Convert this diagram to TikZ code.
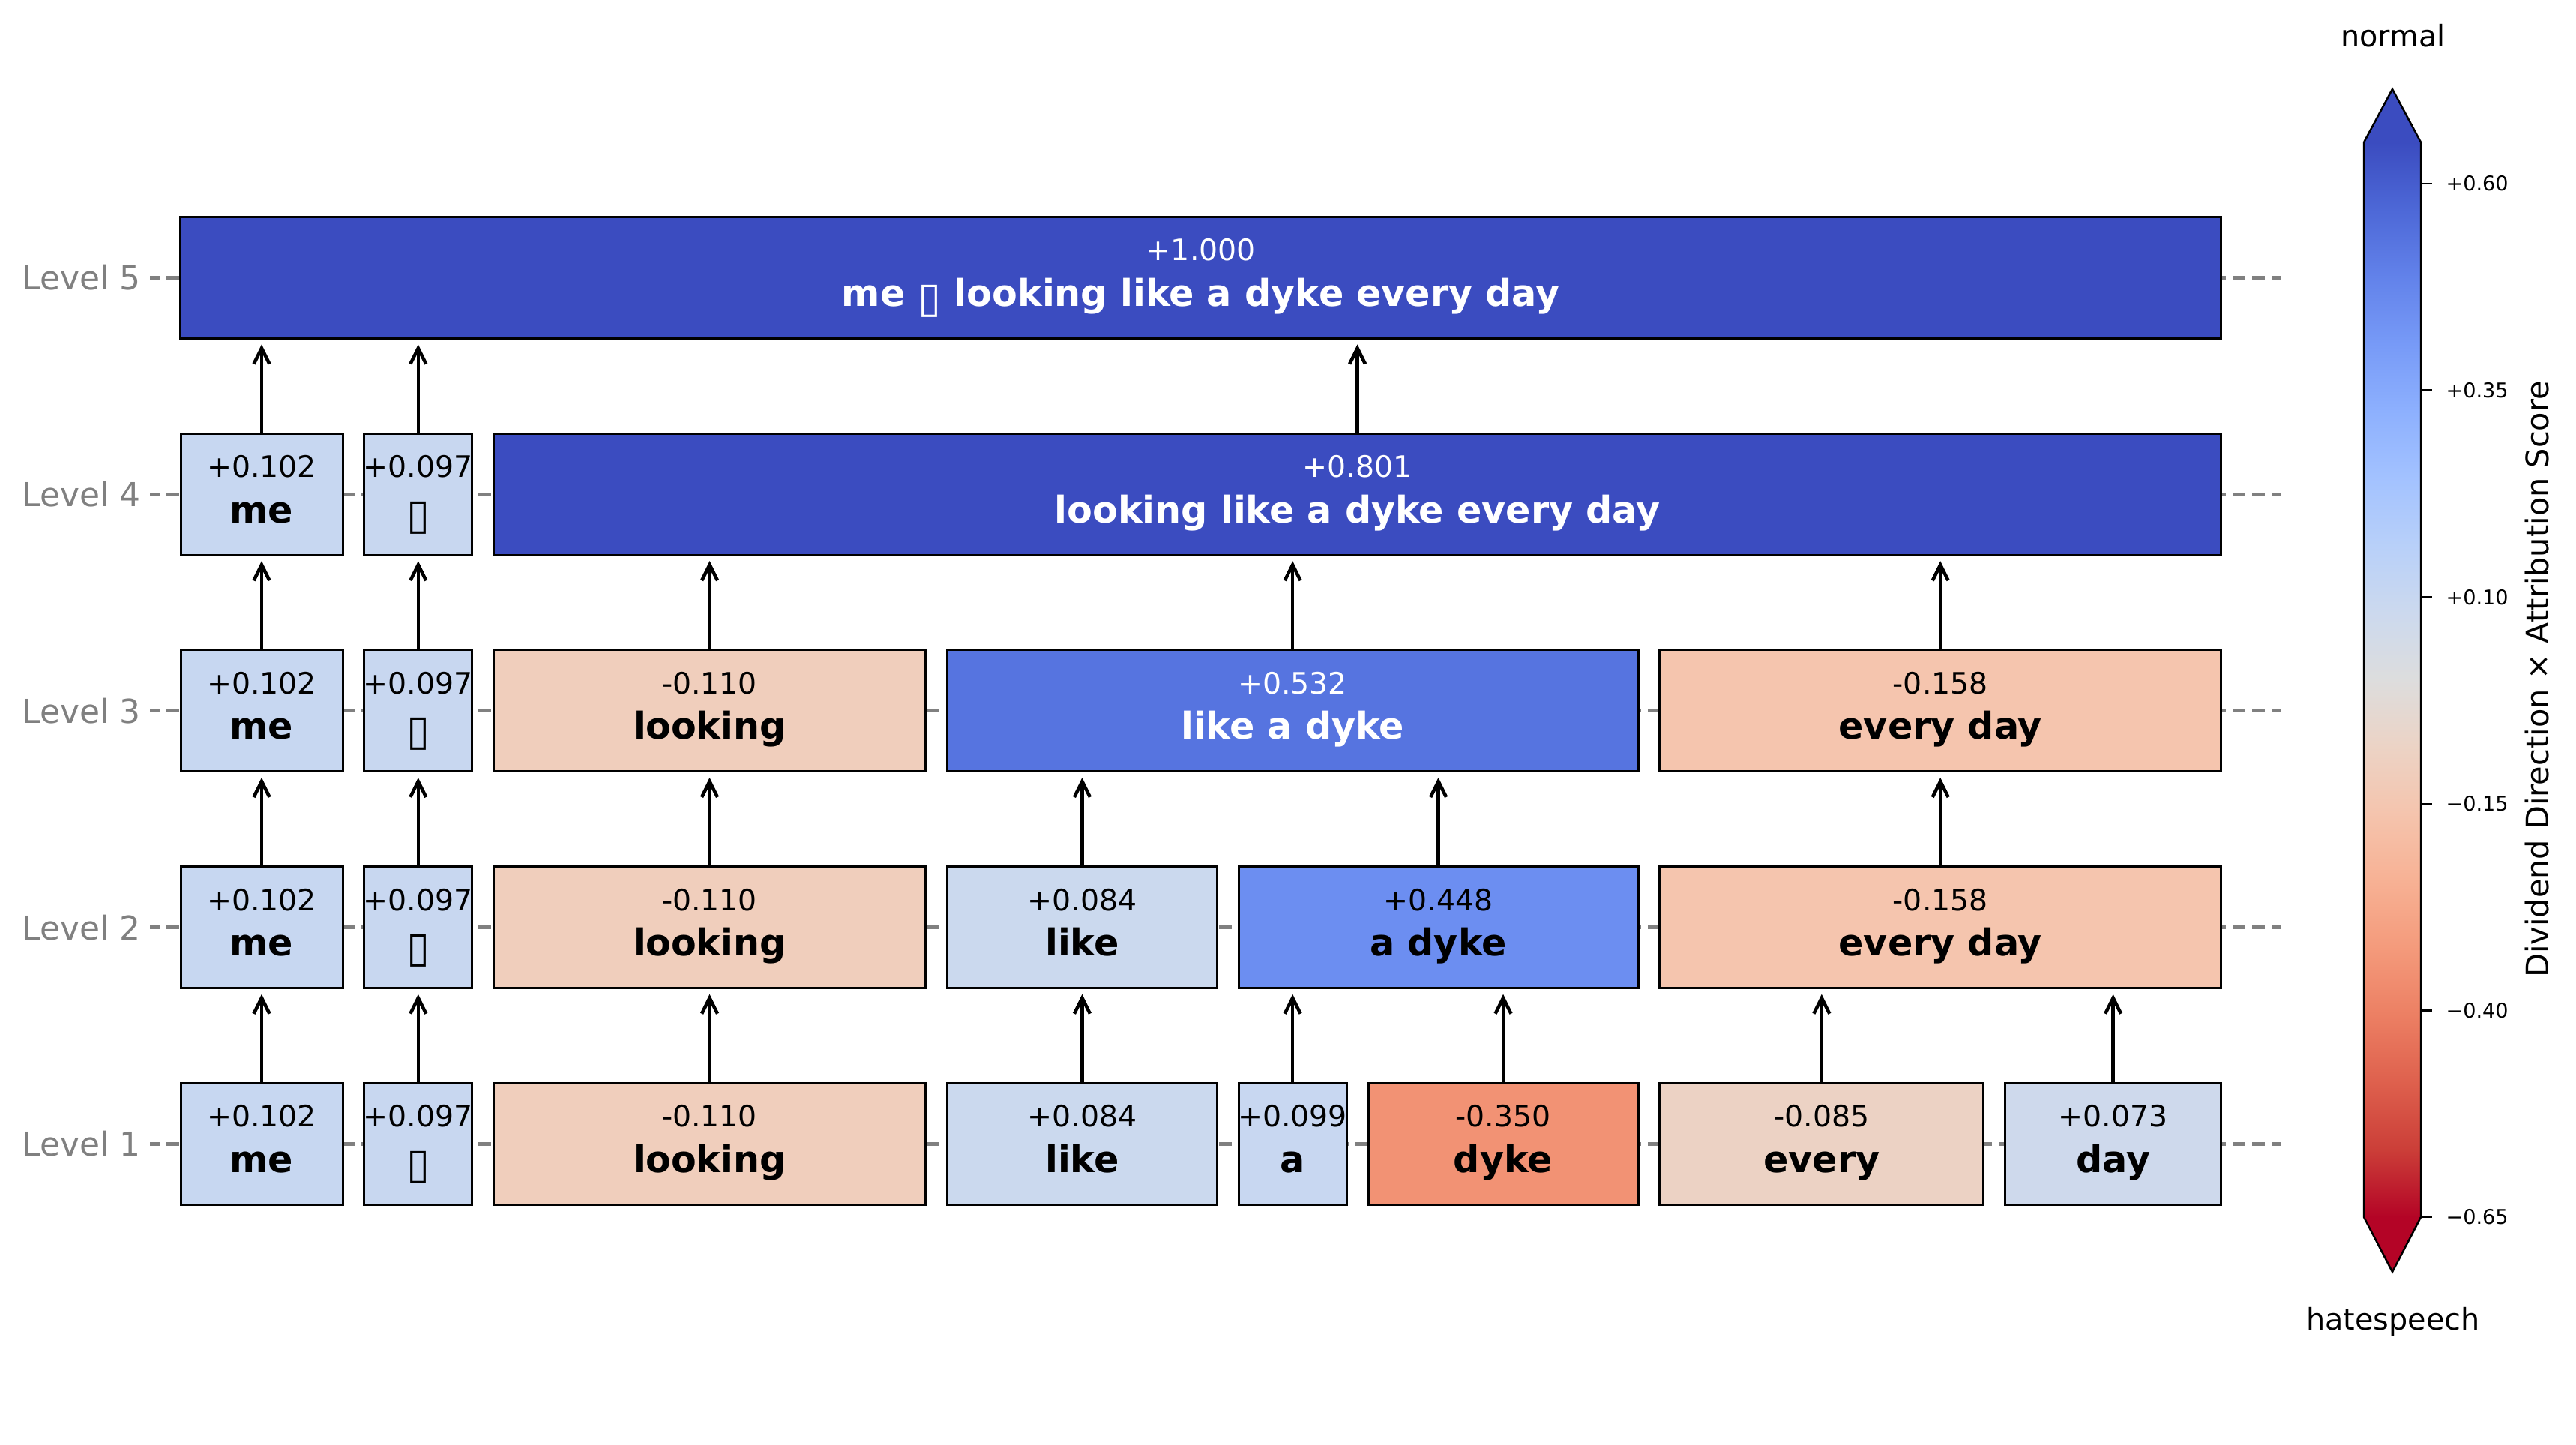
\documentclass[tikz,border=0pt]{standalone}
\usepackage{fontspec}
\setmainfont{DejaVu Sans}
\usetikzlibrary{arrows.meta}

\definecolor{gridgray}{HTML}{808080}
% box colours
\definecolor{cMe}{HTML}{C7D7F1}
\definecolor{cEmo}{HTML}{C8D7F0}
\definecolor{cLook}{HTML}{F0CEBC}
\definecolor{cLike}{HTML}{CBD9EE}
\definecolor{cA}{HTML}{C8D7F1}
\definecolor{cDyke}{HTML}{F29274}
\definecolor{cEvery}{HTML}{ECD2C4}
\definecolor{cDay}{HTML}{CED9EC}
\definecolor{cADyke}{HTML}{6C8EF1}
\definecolor{cEveryDay}{HTML}{F5C5AE}
\definecolor{cLikeADyke}{HTML}{5674E0}
\definecolor{cTop}{HTML}{3B4CC0}
% colour bar stops, top to bottom
\definecolor{cw0}{HTML}{3B4CC0}
\definecolor{cw1}{HTML}{4D68D7}
\definecolor{cw2}{HTML}{6282EA}
\definecolor{cw3}{HTML}{779AF7}
\definecolor{cw4}{HTML}{8DB0FE}
\definecolor{cw5}{HTML}{A3C2FF}
\definecolor{cw6}{HTML}{B8D0F9}
\definecolor{cw7}{HTML}{CCD9EE}
\definecolor{cw8}{HTML}{DDDDDD}
\definecolor{cw9}{HTML}{ECD3C5}
\definecolor{cw10}{HTML}{F5C4AD}
\definecolor{cw11}{HTML}{F7B194}
\definecolor{cw12}{HTML}{F49A7B}
\definecolor{cw13}{HTML}{EC7F63}
\definecolor{cw14}{HTML}{DE604D}
\definecolor{cw15}{HTML}{CB3E38}
\definecolor{cw16}{HTML}{B40426}

\tikzset{
  tokbox/.style={draw=black, line width=0.3mm, minimum height=16.2mm, inner sep=0pt},
  valtext/.style={anchor=base, inner sep=0pt, font=\fontsize{11.2}{13}\selectfont},
  wordtext/.style={anchor=base, inner sep=0pt, font=\fontsize{14}{16}\selectfont\bfseries},
  leveltick/.style={gridgray, line width=0.46mm},
  levelgrid/.style={gridgray, line width=0.46mm, dash pattern=on 1.7mm off 0.9mm, dash phase=1.7mm},
  levellabel/.style={anchor=east, inner sep=0pt, text=gridgray, font=\fontsize{12.5}{15}\selectfont},
  uparrow/.style={-{Straight Barb[length=2.1mm,width=2.1mm]}, line width=0.45mm, shorten >=0.65mm},
  barlabel/.style={inner sep=0pt, font=\fontsize{11.3}{13}\selectfont},
  ticklabel/.style={anchor=west, inner sep=0pt, font=\fontsize{7.7}{9}\selectfont}
}

% the glyph that the font lacks
\newcommand{\tofu}{\raisebox{-0.8mm}{\resizebox*{!}{4.3mm}{\mdseries ▯}}}

% name, first and last position (token units), level, fill, text colour, score, words
\newcommand{\tokbox}[8]{%
  \pgfmathsetmacro{\tbw}{(#3-#2)*7.2}%
  \pgfmathsetmacro{\tbx}{24.1+(#2+#3)*3.6}%
  \pgfmathsetmacro{\tby}{40.15+(#4-1)*28.875}%
  \node[tokbox, fill=#5, minimum width=\tbw mm] (#1) at (\tbx,\tby) {};
  \node[valtext, text=#6] at ([yshift=2.25mm]#1.center) {#7};
  \node[wordtext, text=#6] at ([yshift=-3.8mm]#1.center) {#8};
}

\begin{document}
\begin{tikzpicture}[x=1mm, y=1mm]
    \useasboundingbox (0,0) rectangle (343.6,192.7);

    % level lines
    \foreach \lv in {1,...,5} {
        \pgfmathsetmacro{\ly}{40.15+(\lv-1)*28.875}
        \draw[leveltick] (20.0,\ly) -- (21.3,\ly);
        \draw[levelgrid] (21.3,\ly) -- (304.2,\ly);
        \node[levellabel] (lvl\lv) at (18.8,\ly) {Level \lv};
    }

    % level 1
    \tokbox{me1}{0}{3}{1}{cMe}{black}{+0.102}{me}
    \tokbox{emo1}{3.4}{5.4}{1}{cEmo}{black}{+0.097}{\tofu}
    \tokbox{look1}{5.8}{13.8}{1}{cLook}{black}{-0.110}{looking}
    \tokbox{like1}{14.2}{19.2}{1}{cLike}{black}{+0.084}{like}
    \tokbox{a1}{19.6}{21.6}{1}{cA}{black}{+0.099}{a}
    \tokbox{dyke1}{22.0}{27.0}{1}{cDyke}{black}{-0.350}{dyke}
    \tokbox{every1}{27.4}{33.4}{1}{cEvery}{black}{-0.085}{every}
    \tokbox{day1}{33.8}{37.8}{1}{cDay}{black}{+0.073}{day}

    % level 2
    \tokbox{me2}{0}{3}{2}{cMe}{black}{+0.102}{me}
    \tokbox{emo2}{3.4}{5.4}{2}{cEmo}{black}{+0.097}{\tofu}
    \tokbox{look2}{5.8}{13.8}{2}{cLook}{black}{-0.110}{looking}
    \tokbox{like2}{14.2}{19.2}{2}{cLike}{black}{+0.084}{like}
    \tokbox{adyke2}{19.6}{27.0}{2}{cADyke}{black}{+0.448}{a dyke}
    \tokbox{everyday2}{27.4}{37.8}{2}{cEveryDay}{black}{-0.158}{every day}

    % level 3
    \tokbox{me3}{0}{3}{3}{cMe}{black}{+0.102}{me}
    \tokbox{emo3}{3.4}{5.4}{3}{cEmo}{black}{+0.097}{\tofu}
    \tokbox{look3}{5.8}{13.8}{3}{cLook}{black}{-0.110}{looking}
    \tokbox{likeadyke3}{14.2}{27.0}{3}{cLikeADyke}{white}{+0.532}{like a dyke}
    \tokbox{everyday3}{27.4}{37.8}{3}{cEveryDay}{black}{-0.158}{every day}

    % level 4
    \tokbox{me4}{0}{3}{4}{cMe}{black}{+0.102}{me}
    \tokbox{emo4}{3.4}{5.4}{4}{cEmo}{black}{+0.097}{\tofu}
    \tokbox{rest4}{5.8}{37.8}{4}{cTop}{white}{+0.801}{looking like a dyke every day}

    % level 5
    \tokbox{all5}{0}{37.8}{5}{cTop}{white}{+1.000}{me \tofu\ looking like a dyke every day}

    % merges
    \foreach \c/\p in {me1/me2, emo1/emo2, look1/look2, like1/like2, a1/adyke2, dyke1/adyke2,
                       every1/everyday2, day1/everyday2,
                       me2/me3, emo2/emo3, look2/look3, like2/likeadyke3, adyke2/likeadyke3,
                       everyday2/everyday3,
                       me3/me4, emo3/emo4, look3/rest4, likeadyke3/rest4, everyday3/rest4,
                       me4/all5, emo4/all5, rest4/all5}
        \draw[uparrow] (\c.north) -- (\c.north |- \p.south);

    % colour bar
    \foreach \i in {0,...,15} {
        \pgfmathtruncatemacro{\j}{\i+1}
        \shade[top color=cw\i, bottom color=cw\j]
            (315.3,{173.7-\i*8.956}) rectangle (322.9,{173.7-\j*8.956-0.05});
    }
    \fill[cw0] (315.3,173.6) -- (319.1,180.8) -- (322.9,173.6) -- cycle;
    \fill[cw16] (315.3,30.5) -- (319.1,23.1) -- (322.9,30.5) -- cycle;
    \draw[line width=0.25mm, line join=miter] (315.3,30.4) -- (315.3,173.7) -- (319.1,180.8)
        -- (322.9,173.7) -- (322.9,30.4) -- (319.1,23.1) -- cycle;

    \foreach \v/\t [count=\k] in {0.60/+0.60, 0.35/+0.35, 0.10/+0.10, -0.15/−0.15, -0.40/−0.40, -0.65/−0.65} {
        \pgfmathsetmacro{\ty}{30.4+(\v+0.65)*110.23}
        \draw[line width=0.25mm] (322.9,\ty) -- (324.4,\ty);
        \node[ticklabel] (tick\k) at (326.2,\ty) {\t};
    }

    \node[barlabel, anchor=base] (normal) at (319.2,186.4) {normal};
    \node[barlabel, anchor=base] (hate) at (319.2,15.3) {hatespeech};
    \node[barlabel, rotate=90, font=\fontsize{11.8}{14}\selectfont] (cbtitle) at (338.4,102.1)
        {Dividend Direction × Attribution Score};
\end{tikzpicture}
\end{document}
